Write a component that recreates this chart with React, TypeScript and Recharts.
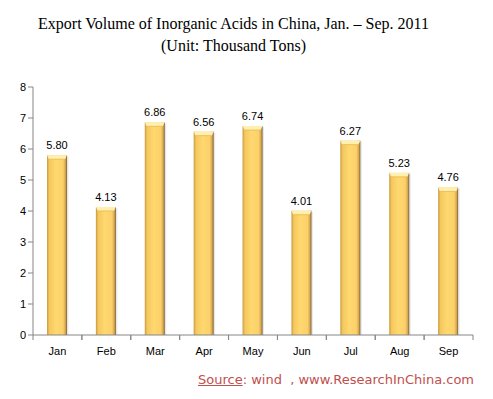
import React from "react";
import { BarChart, Bar, XAxis, YAxis, LabelList } from "recharts";

const months = ["Jan", "Feb", "Mar", "Apr", "May", "Jun", "Jul", "Aug", "Sep"];
const volumes = [5.8, 4.13, 6.86, 6.56, 6.74, 4.01, 6.27, 5.23, 4.76];
const yTicks = [0, 1, 2, 3, 4, 5, 6, 7, 8];

const data = months.map((m, i) => ({ month: m, value: volumes[i] }));

const AXIS = "#868686";
const FONT = "'Liberation Sans', Arial, sans-serif";

// golden bar with darker edges and a lighter bevel on top
const GoldBar = (props: any) => {
  const { x, y, width, height } = props;
  if (!height || height <= 0) return null;
  const cap = 4;
  return (
    <g>
      <rect x={x + 1.5} y={y + 1} width={width} height={height - 1} fill="#d9d9d9" opacity={0.6} />
      <rect x={x} y={y} width={width} height={height} fill="url(#goldGrad)" />
      <polygon
        points={`${x},${y} ${x + width},${y} ${x + width - 2},${y + cap} ${x + 2},${y + cap}`}
        fill="#ffefb0"
      />
      <line x1={x + 2} y1={y + cap} x2={x + width - 2} y2={y + cap} stroke="#e8b850" strokeWidth={0.8} />
    </g>
  );
};

const MonthTick = (props: any) => {
  const { x, y, payload } = props;
  const half = payload.offset ?? 24.4;
  return (
    <g>
      <line x1={x - half} y1={y - 8} x2={x - half} y2={y - 3} stroke={AXIS} />
      <line x1={x + half} y1={y - 8} x2={x + half} y2={y - 3} stroke={AXIS} />
      <text x={x} y={y + 12} textAnchor="middle" fontSize={11} fontFamily={FONT} fill="#000">
        {payload.value}
      </text>
    </g>
  );
};

export default function App() {
  return (
    <div style={{ position: "absolute", left: 0, top: 0, width: 493, height: 399, background: "#fff" }}>
      <div
        style={{
          position: "absolute",
          left: 0,
          width: 493,
          top: 13,
          textAlign: "center",
          fontFamily: "'Liberation Serif', 'Times New Roman', serif",
          fontSize: 16,
          lineHeight: "22px",
          color: "#000",
        }}
      >
        <div style={{ marginLeft: -26 }}>Export Volume of Inorganic Acids in China, Jan. – Sep. 2011</div>
        <div style={{ marginLeft: -26 }}>(Unit: Thousand Tons)</div>
      </div>
      <BarChart
        width={493}
        height={399}
        data={data}
        margin={{ top: 87, right: 20, left: 0, bottom: 34 }}
        barCategoryGap={0}
      >
        <defs>
          <linearGradient id="goldGrad" x1="0" y1="0" x2="1" y2="0">
            <stop offset="0%" stopColor="#c89a40" />
            <stop offset="12%" stopColor="#f5c85e" />
            <stop offset="45%" stopColor="#ffd86f" />
            <stop offset="80%" stopColor="#fcd06a" />
            <stop offset="92%" stopColor="#d6a850" />
            <stop offset="100%" stopColor="#7a5a2a" />
          </linearGradient>
        </defs>
        <XAxis
          dataKey="month"
          height={30}
          stroke={AXIS}
          tickLine={false}
          tick={<MonthTick />}
          interval={0}
        />
        <YAxis
          width={33}
          domain={[0, 8]}
          ticks={yTicks}
          stroke={AXIS}
          tickSize={5}
          tick={{ fontSize: 11, fill: "#000", fontFamily: FONT }}
          interval={0}
        />
        <Bar dataKey="value" barSize={20} shape={<GoldBar />} isAnimationActive={false}>
          <LabelList
            dataKey="value"
            position="top"
            offset={6}
            formatter={(v: any) => Number(v).toFixed(2)}
            style={{ fontSize: 11, fill: "#000", fontFamily: FONT }}
          />
        </Bar>
      </BarChart>
      <div
        style={{
          position: "absolute",
          left: 198,
          top: 372,
          fontFamily: "'DejaVu Sans', Verdana, sans-serif",
          fontSize: 13,
          color: "#c0504d",
          whiteSpace: "nowrap",
        }}
      >
        <span style={{ textDecoration: "underline" }}>Source</span>: wind&nbsp; , www.ResearchInChina.com
      </div>
    </div>
  );
}
